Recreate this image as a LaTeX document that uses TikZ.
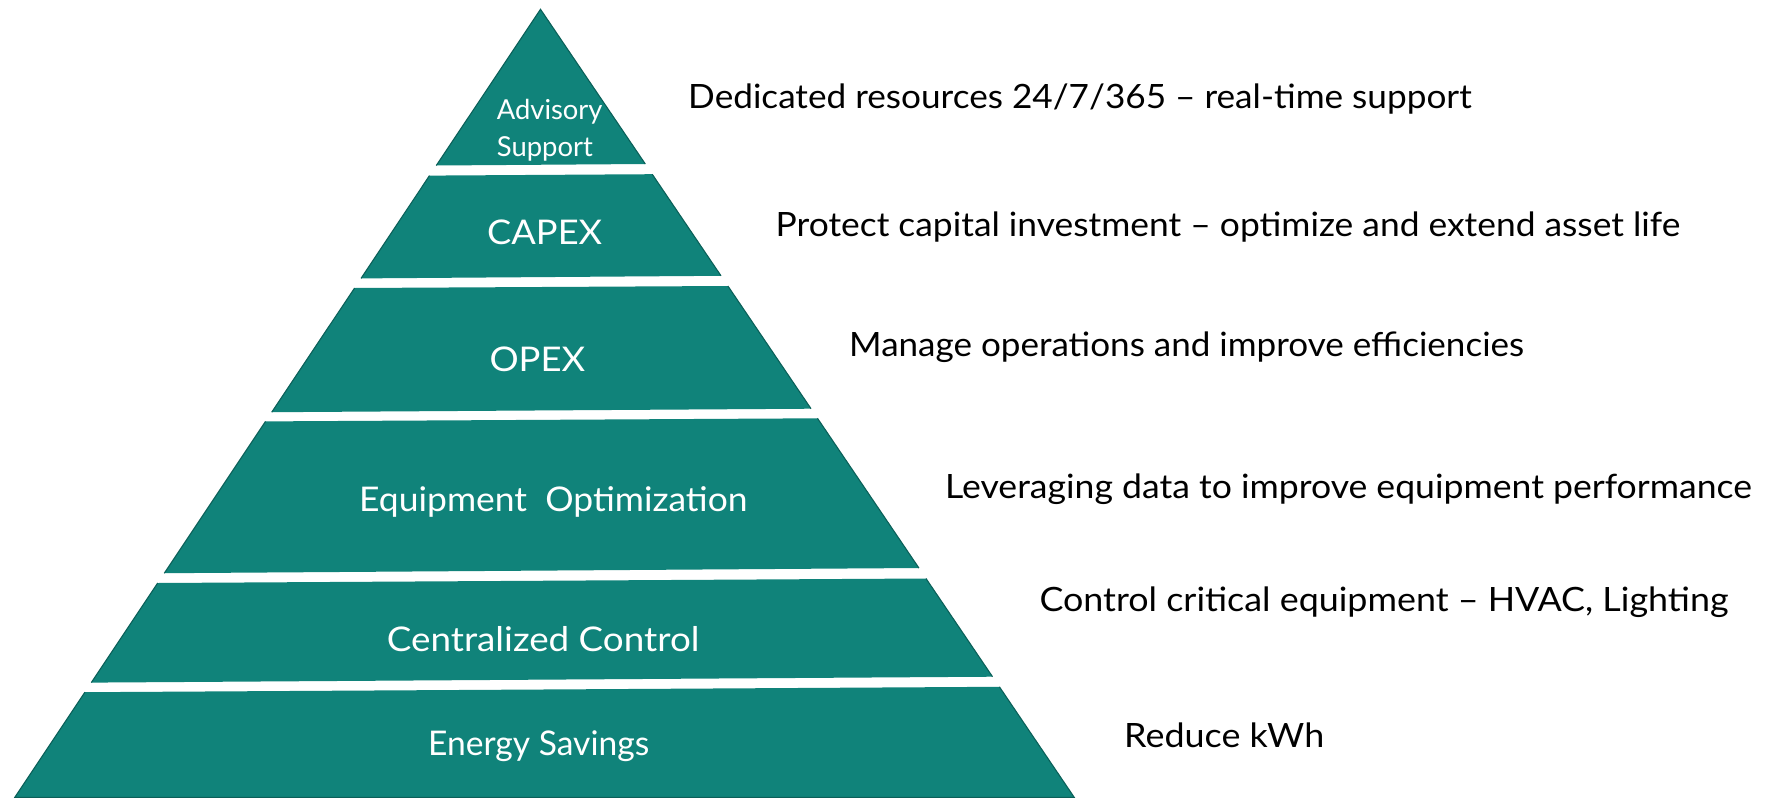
\documentclass[tikz,border=0pt]{standalone}
\usepackage{fontspec}
\setmainfont{Lato}
\usepackage{graphicx}
\definecolor{tealfill}{RGB}{16,131,122}
\definecolor{tealedge}{RGB}{11,96,89}
\newlength\fitlen
\newcommand\fitw[2]{\settowidth{\fitlen}{#2}\pgfmathsetmacro\fitsx{#1/\fitlen}\scalebox{\fitsx}[1]{#2}}
\tikzset{
  tierfill/.style={fill=tealfill},
  tieredge/.style={draw=tealedge, line width=1.1pt},
  rlab/.style={inner sep=0pt, anchor=base west, text=black, font=\fontsize{33.5}{40}\selectfont},
  plab/.style={inner sep=0pt, anchor=base west, text=white, font=\fontsize{34}{40}\selectfont},
  slab/.style={inner sep=0pt, anchor=base west, text=white, font=\fontsize{27.5}{33}\selectfont},
}
\begin{document}
\begin{tikzpicture}[x=1pt, y=-1pt]
\useasboundingbox (0,0) rectangle (1775,798);
% tier 1
\fill[tierfill] (540.5,9.3) -- (645.3,164) -- (436.3,165.5) -- cycle;
\draw[tieredge] (436.3,165.5) -- (540.5,9.3) -- (645.3,164);
% tier 2
\fill[tierfill] (429.5,175.6) -- (652.2,174.2) -- (721.0,275.8) -- (361.0,278.4) -- cycle;
\draw[tieredge] (429.5,175.6) -- (361.0,278.4);
\draw[tieredge] (652.2,174.2) -- (721.0,275.8);
% tier 3
\fill[tierfill] (354.6,288) -- (727.9,286) -- (811.0,408.7) -- (271.7,412.2) -- cycle;
\draw[tieredge] (354.6,288) -- (271.7,412.2);
\draw[tieredge] (727.9,286) -- (811.0,408.7);
% tier 4
\fill[tierfill] (265.5,421.4) -- (817.5,418.3) -- (918.9,568) -- (164.3,573.2) -- cycle;
\draw[tieredge] (265.5,421.4) -- (164.3,573.2);
\draw[tieredge] (817.5,418.3) -- (918.9,568);
% tier 5
\fill[tierfill] (157.7,583) -- (926.0,578.5) -- (992.5,676.7) -- (91.3,682.6) -- cycle;
\draw[tieredge] (157.7,583) -- (91.3,682.6);
\draw[tieredge] (926.0,578.5) -- (992.5,676.7);
% tier 6
\fill[tierfill] (84.9,692.2) -- (999.4,686.8) -- (1074.2,797.3) -- (14.8,797.3) -- cycle;
\draw[tieredge] (84.9,692.2) -- (14.8,797.3) -- (1074.2,797.3) -- (999.4,686.8);

% pyramid labels
\node[slab] (adv) at (496.7,119) {\fitw{105.6}{Advisory}};
\node[slab] (sup) at (496.7,156) {\fitw{96}{Support}};
\node[plab] (capex) at (487,244.3) {\fitw{115}{CAPEX}};
\node[plab] (opex) at (489.3,371) {\fitw{95.7}{OPEX}};
\node[plab] (equip) at (359,511) {\fitw{388.3}{Equipment~~Optimization}};
\node[plab] (cent) at (386.7,651) {\fitw{312.6}{Centralized Control}};
\node[plab] (energy) at (428,755.7) {\fitw{221}{Energy Savings}};

% right labels
\node[rlab] (r1) at (688,108.3) {\fitw{783.5}{Dedicated resources 24/7/365 – real-time support}};
\node[rlab] (r2) at (775.5,236.6) {\fitw{904.5}{Protect capital investment – optimize and extend asset life}};
\node[rlab] (r3) at (849,356.7) {\fitw{675}{Manage operations and improve efficiencies}};
\node[rlab] (r4) at (945,498.3) {\fitw{806.7}{Leveraging data to improve equipment performance}};
\node[rlab] (r5) at (1039.3,611) {\fitw{689}{Control critical equipment – HVAC, Lighting}};
\node[rlab] (r6) at (1124,747) {\fitw{200}{Reduce kWh}};
\end{tikzpicture}
\end{document}
